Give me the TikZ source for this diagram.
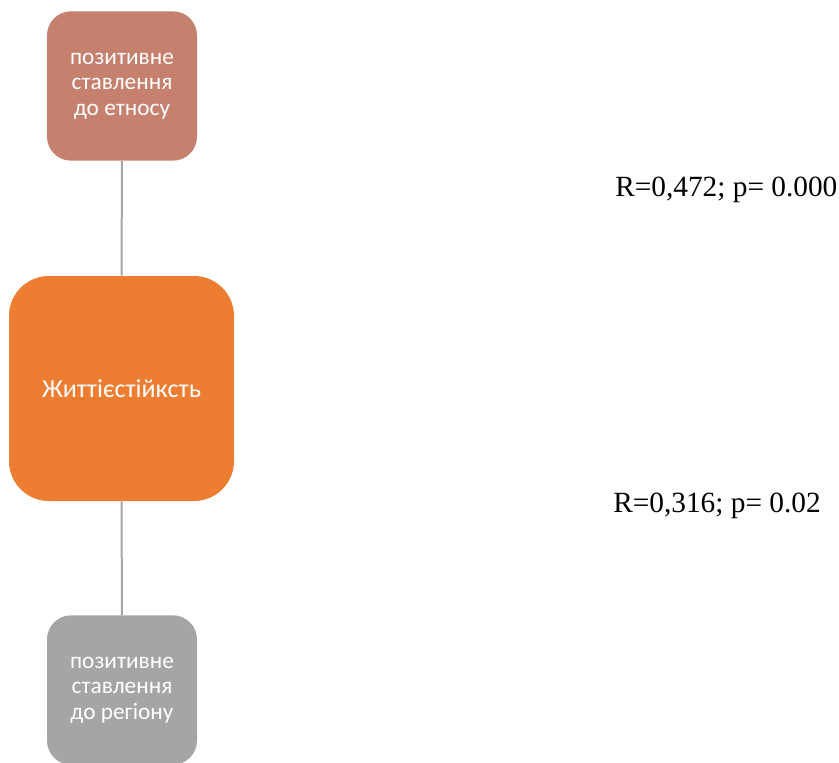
\documentclass[tikz,border=0pt]{standalone}
\usepackage{fontspec}
\setmainfont{Liberation Serif}
\newfontfamily\boxfont{Carlito}
\definecolor{topc}{HTML}{C5806E}
\definecolor{midc}{HTML}{ED7D31}
\definecolor{botc}{HTML}{A5A5A5}
\definecolor{linec}{HTML}{A5A5A5}
\begin{document}
\begin{tikzpicture}[x=0.75pt,y=-0.75pt,
  smallbox/.style={rectangle,rounded corners=18pt,minimum width=112.5pt,minimum height=112pt,inner sep=0pt,text=white,font=\boxfont\fontsize{17.5}{19}\selectfont,align=center},
  bigbox/.style={rectangle,rounded corners=30pt,minimum width=168.75pt,minimum height=168.75pt,inner sep=0pt,text=white,font=\boxfont\fontsize{19.5}{22}\selectfont,align=center},
  link/.style={draw=linec,line width=1.5pt},
  stat/.style={font=\fontsize{22}{26}\selectfont,anchor=base west,inner sep=0pt}]
\useasboundingbox (0,0) rectangle (839,763);
\node[smallbox,fill=topc] (top) at (122,86) {позитивне\\ставлення\\до етносу};
\node[bigbox,fill=midc] (mid) at (121.5,388.5) {Життієстійкcть};
\node[smallbox,fill=botc] (bot) at (122,690) {позитивне\\ставлення\\до регіону};
\draw[link] (top.south) -- (mid.north);
\draw[link] (mid.south) -- (bot.north);
\node[stat] (s1) at (615,197) {R=0,472; p= 0.000};
\node[stat] (s2) at (613,512) {R=0,316; p= 0.02};
\end{tikzpicture}
\end{document}
